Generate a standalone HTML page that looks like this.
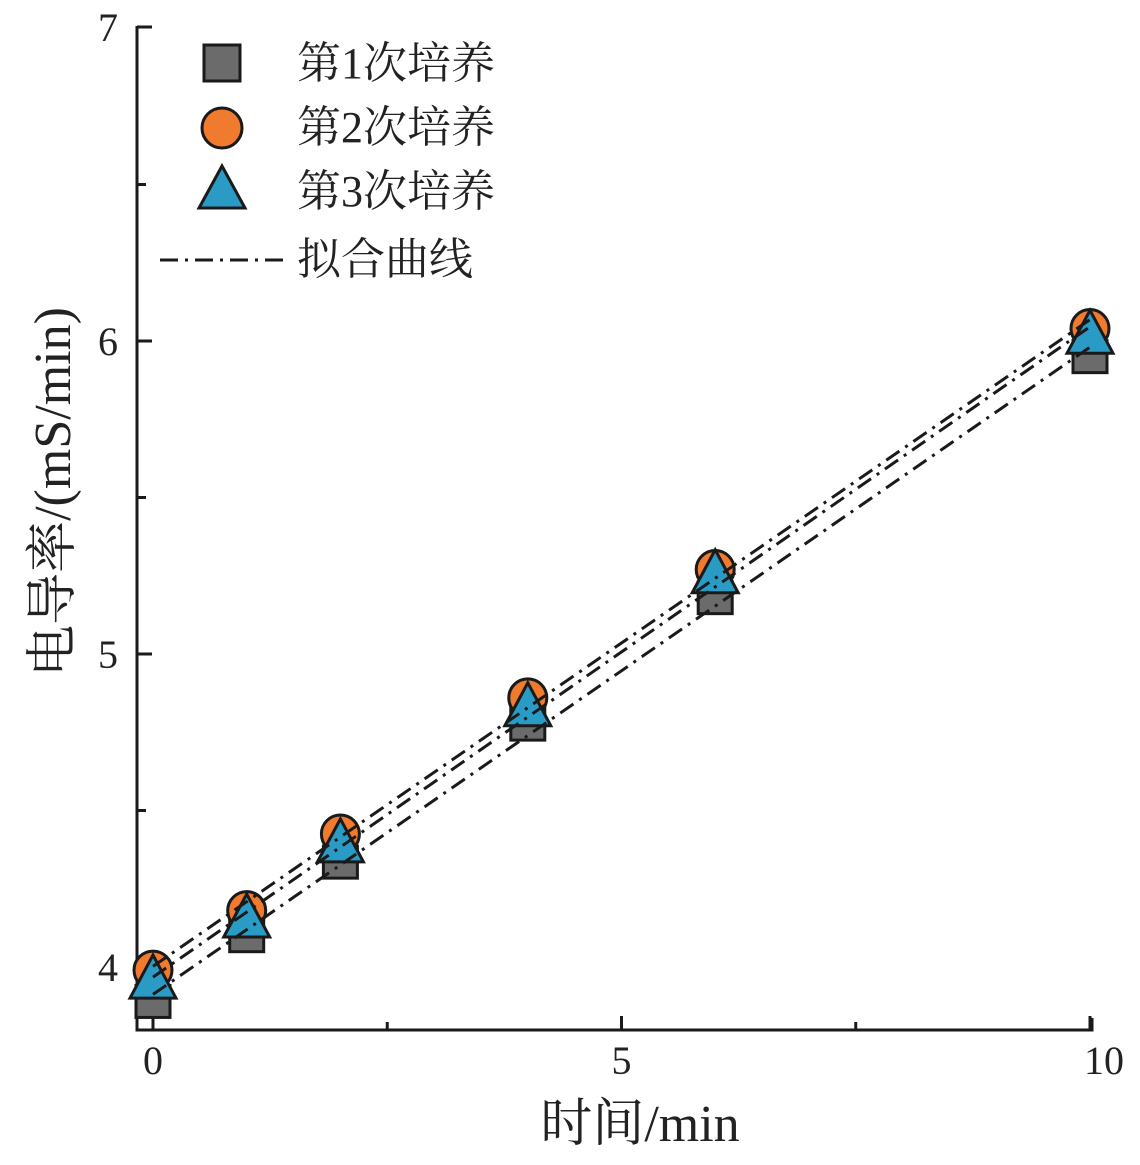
<!DOCTYPE html>
<html><head><meta charset="utf-8"><style>
body{margin:0;background:#fff}
svg text{font-family:"Liberation Serif","Noto Serif CJK SC",serif;fill:#222}
</style></head><body>
<svg id="chart" width="1140" height="1160" viewBox="0 0 1140 1160" xmlns="http://www.w3.org/2000/svg">
<g id="axes"></g>
<g id="marks"></g>
<g id="fits"></g>
<g id="legend">
  <rect x="204" y="45" width="36" height="36" fill="#6b6b6b" stroke="#1a1a1a" stroke-width="3"/>
  <circle cx="222" cy="128" r="20" fill="#f07a2e" stroke="#1a1a1a" stroke-width="3"/>
  <polygon points="222,166 199,208 245,208" fill="#2a9bc4" stroke="#1a1a1a" stroke-width="3"/>
  <line x1="160" y1="260" x2="285" y2="260" stroke="#1a1a1a" stroke-width="3" stroke-dasharray="18,7,3,7"/>
  <text x="297" y="78" font-size="44">第1次培养</text>
  <text x="297" y="142" font-size="44">第2次培养</text>
  <text x="297" y="206" font-size="44">第3次培养</text>
  <text x="297" y="274" font-size="44">拟合曲线</text>
</g>
<text x="640" y="1141" font-size="52" text-anchor="middle">时间/min</text>
<text transform="translate(70,492) rotate(-90)" font-size="52" text-anchor="middle">电导率/(mS/min)</text>
</svg>
<script>
const xValues=[0,1,2,4,6,10];
const series1=[3.89,4.10,4.335,4.776,5.18,5.95];
const series2=[3.99,4.18,4.425,4.86,5.27,6.04];
const series3=[3.955,4.15,4.39,4.825,5.25,6.015];
const xTicks=[0,5,10];
const xMinor=[2.5,7.5];
const yTicks=[4,5,6,7];
const yMinor=[4.5,5.5,6.5];
const NS="http://www.w3.org/2000/svg";
const X=v=>153+v*93.7;
const Y=v=>967-(v-4)*313;
function mk(tag,attrs,parent){const e=document.createElementNS(NS,tag);for(const k in attrs)e.setAttribute(k,attrs[k]);parent.appendChild(e);return e;}
const axes=document.getElementById('axes'),marks=document.getElementById('marks'),fits=document.getElementById('fits');
let a=mk('path',{d:'M137,26 L137,1030 L1092,1030 L1092,1018',fill:'none',stroke:'#1a1a1a','stroke-width':3},axes);


xTicks.forEach(v=>{
 const t=mk('line',{x1:X(v),x2:X(v),y1:1030,y2:1016,stroke:'#1a1a1a','stroke-width':3},axes);
 
 
 const lx=X(v)+(v>=10?14:0);
 const l=mk('text',{x:lx,y:1074,'font-size':40,'text-anchor':'middle'},axes);l.textContent=v;
 
 
});
xMinor.forEach(v=>{
 const t=mk('line',{x1:X(v),x2:X(v),y1:1030,y2:1022,stroke:'#1a1a1a','stroke-width':3},axes);
 
 
});
yTicks.forEach(v=>{
 const y=v===7?27:Y(v);
 const t=mk('line',{x1:137,x2:152,y1:y,y2:y,stroke:'#1a1a1a','stroke-width':3},axes);
 
 
 const l=mk('text',{x:118,y:y+14,'font-size':40,'text-anchor':'end'},axes);l.textContent=v;
 
 
});
yMinor.forEach(v=>{
 const t=mk('line',{x1:137,x2:146,y1:Y(v),y2:Y(v),stroke:'#1a1a1a','stroke-width':3},axes);
 
 
});
xValues.forEach((x,i)=>{
 const cx=X(x);
 const s=mk('rect',{x:cx-17,y:Y(series1[i])-16,width:34,height:32,fill:'#6b6b6b',stroke:'#1a1a1a','stroke-width':3},marks);
 
 
 const c=mk('circle',{cx:cx,cy:Y(series2[i]),r:19,fill:'#f07a2e',stroke:'#1a1a1a','stroke-width':3},marks);
 
 
 const ty=Y(series3[i]);
 const p=mk('polygon',{points:`${cx},${ty-26} ${cx-23},${ty+17} ${cx+23},${ty+17}`,fill:'#2a9bc4',stroke:'#1a1a1a','stroke-width':3},marks);
 
 
});
function fit(ys){const n=xValues.length;const mx=xValues.reduce((a,b)=>a+b)/n,my=ys.reduce((a,b)=>a+b)/n;let sxy=0,sxx=0;xValues.forEach((x,i)=>{sxy+=(x-mx)*(ys[i]-my);sxx+=(x-mx)**2});const b=sxy/sxx;return [my-b*mx,b];}
[series1,series2,series3].forEach((ys,k)=>{
 const [a0,b]=fit(ys);
 const l=mk('line',{x1:X(0),y1:Y(a0),x2:X(10),y2:Y(a0+10*b),stroke:'#1a1a1a','stroke-width':3,'stroke-dasharray':'16,7,3,7'},fits);
 
 
});
</script>
</body></html>
